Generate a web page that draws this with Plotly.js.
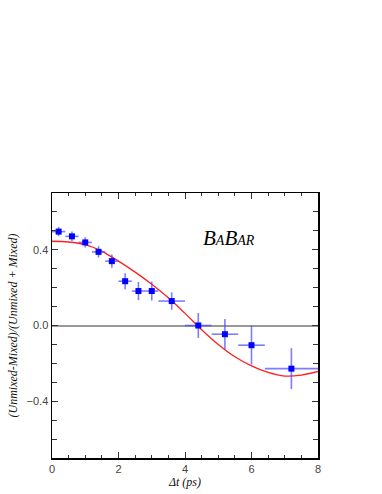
<!DOCTYPE html>
<html>
<head>
<meta charset="utf-8">
<script src="https://cdn.plot.ly/plotly-3.0.1.min.js"></script>
<style>
  html, body { margin: 0; padding: 0; background: #fff; }
  #chart { width: 382px; height: 494px; }
</style>
</head>
<body>
<div id="chart"></div>
<script>
// measured asymmetry points
const dt      = [0.2, 0.6, 1.0, 1.4, 1.8, 2.2, 2.6, 3.0, 3.6, 4.4, 5.2, 6.0, 7.2];
const asym    = [0.496, 0.471, 0.439, 0.389, 0.340, 0.234, 0.182, 0.182, 0.129, 0.0, -0.046, -0.104, -0.228];
const asymErr = [0.024, 0.025, 0.027, 0.030, 0.035, 0.042, 0.048, 0.050, 0.046, 0.066, 0.080, 0.103, 0.108];
const dtErr   = [0.2, 0.2, 0.2, 0.2, 0.2, 0.2, 0.2, 0.2, 0.4, 0.4, 0.4, 0.4, 0.8];

// fit curve
const fitT = [0, 0.5, 1.0, 1.5, 2.0, 2.5, 3.0, 3.5, 4.0, 4.5, 5.0, 5.5, 6.0, 6.5, 7.0, 7.5, 8.0];
const fitA = [0.445, 0.441, 0.427, 0.392, 0.340, 0.282, 0.218, 0.146, 0.064, -0.022, -0.100, -0.165, -0.213, -0.248, -0.267, -0.262, -0.243];

const fit = {
  x: fitT, y: fitA,
  mode: 'lines',
  line: { color: '#ff2020', width: 1.3, shape: 'spline' },
  hoverinfo: 'skip'
};

const points = {
  x: dt, y: asym,
  mode: 'markers',
  marker: { color: '#0000ff', size: 6, symbol: 'square' },
  error_y: { type: 'data', array: asymErr, color: 'rgba(70,70,255,0.7)', thickness: 1.6, width: 0 },
  error_x: { type: 'data', array: dtErr, color: 'rgba(70,70,255,0.7)', thickness: 1.6, width: 0 }
};

const tickFont = { family: 'Liberation Sans, Arial, sans-serif', size: 11, color: '#444' };
const titleFont = { family: 'Liberation Serif, Times New Roman, serif', size: 12, color: '#111' };

const layout = {
  width: 382, height: 494,
  margin: { l: 52, r: 64, t: 193, b: 36 },
  paper_bgcolor: '#fff',
  plot_bgcolor: '#fff',
  showlegend: false,
  xaxis: {
    range: [0, 8],
    tick0: 0, dtick: 2,
    ticks: 'inside', ticklen: 6, tickwidth: 1, tickcolor: '#333',
    minor: { dtick: 0.5, ticks: 'inside', ticklen: 3, tickcolor: '#333' },
    showgrid: false, zeroline: false,
    showline: true, linecolor: '#000', linewidth: 1.5, mirror: 'ticks',
    tickfont: tickFont,
    title: { text: '<i>Δt (ps)</i>', font: titleFont, standoff: 4 }
  },
  yaxis: {
    range: [-0.7, 0.7],
    tick0: 0, dtick: 0.4, tickformat: '.1f',
    ticks: 'inside', ticklen: 6, tickwidth: 1, tickcolor: '#333',
    minor: { dtick: 0.1, ticks: 'inside', ticklen: 5, tickcolor: '#333' },
    showgrid: false,
    zeroline: true, zerolinecolor: '#999', zerolinewidth: 2,
    showline: true, linecolor: '#000', linewidth: 1.5, mirror: 'ticks',
    tickfont: tickFont,
    title: { text: '<i>(Unmixed-Mixed)/(Unmixed + Mixed)</i>', font: titleFont, standoff: 6 }
  },
  annotations: [{
    x: 5.33, y: 0.46, xref: 'x', yref: 'y',
    text: "<i>B<span style='font-size:14px'>A</span>B<span style='font-size:14px'>AR</span></i>",
    showarrow: false,
    font: { family: 'Liberation Serif, Times New Roman, serif', size: 21, color: '#000' }
  }]
};

Plotly.newPlot('chart', [fit, points], layout, { staticPlot: true, displayModeBar: false });
</script>
</body>
</html>
